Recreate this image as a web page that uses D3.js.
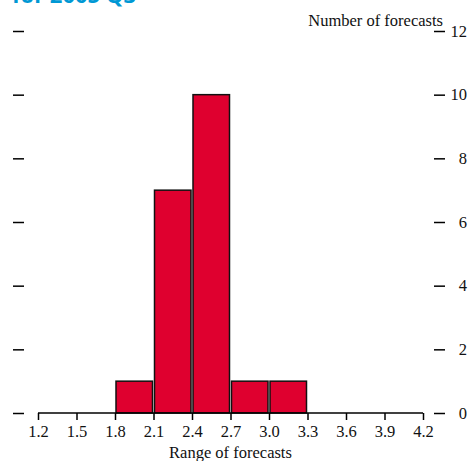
<!DOCTYPE html>
<html><head><meta charset="utf-8">
<script src="https://cdn.jsdelivr.net/npm/d3@7"></script>
<style>html,body{margin:0;padding:0;background:#fff;overflow:hidden}</style>
</head><body>
<svg id="c" width="469" height="461"></svg>
<script>
const binStarts = [1.8, 2.1, 2.4, 2.7, 3.0];
const binWidth = 0.3;
const counts = [1, 7, 10, 1, 1];
const xTicks = [1.2, 1.5, 1.8, 2.1, 2.4, 2.7, 3.0, 3.3, 3.6, 3.9, 4.2];
const yTicks = [0, 2, 4, 6, 8, 10, 12];
const titleText = "for 2005 Q3";
const yTitle = "Number of forecasts";
const xTitle = "Range of forecasts";

const svg = d3.select("#c");
const serif = "'Liberation Serif', 'DejaVu Serif', serif";
const fs = 16.5;
const x = d3.scaleLinear().domain([1.2, 4.2]).range([38, 423]);
const y = d3.scaleLinear().domain([0, 12]).range([413, 31]);

svg.append("text").attr("x", 12).attr("y", 3)
  .attr("font-family", "'Open Sans', 'DejaVu Sans', sans-serif").attr("font-weight", "bold")
  .attr("font-size", 22).attr("fill", "#0098D4").text(titleText);

// bars
svg.selectAll("rect.bar").data(binStarts).enter().append("rect")
  .attr("x", (d) => x(d) + 1)
  .attr("width", (d) => x(d + binWidth) - x(d) - 2)
  .attr("y", (d, i) => y(counts[i]))
  .attr("height", (d, i) => y(0) - y(counts[i]))
  .attr("fill", "#DF002F").attr("stroke", "#111").attr("stroke-width", 1.5);

// x axis
const xAxis = d3.axisBottom(x).tickValues(xTicks).tickSize(7).tickPadding(5)
  .tickFormat(d3.format(".1f"));
const gx = svg.append("g").attr("transform", `translate(0,${y(0)})`).call(xAxis);
gx.select(".domain").attr("stroke", "#000").attr("stroke-width", 1.5).attr("d", `M${x(1.2)},0H${x(4.2)}`);
gx.selectAll(".tick line").attr("stroke", "#000").attr("stroke-width", 1.5);
gx.selectAll(".tick text").attr("font-family", serif).attr("font-size", fs).attr("fill", "#111");

// y ticks both sides
const left = d3.axisLeft(y).tickValues(yTicks).tickSize(11).tickFormat("");
const gl = svg.append("g").attr("transform", "translate(24,0)").call(left);
gl.select(".domain").remove();
gl.selectAll(".tick line").attr("stroke", "#000").attr("stroke-width", 1.5);

const right = d3.axisRight(y).tickValues(yTicks).tickSize(11).tickPadding(0).tickFormat(d => d);
const gr = svg.append("g").attr("transform", "translate(434,0)").call(right);
gr.select(".domain").remove();
gr.selectAll(".tick line").attr("stroke", "#000").attr("stroke-width", 1.5);
gr.selectAll(".tick text").attr("x", 33).attr("text-anchor", "end")
  .attr("font-family", serif).attr("font-size", fs).attr("fill", "#111");

svg.append("text").attr("x", 443).attr("y", 26).attr("text-anchor", "end")
  .attr("font-family", serif).attr("font-size", fs).attr("fill", "#111").text(yTitle);
svg.append("text").attr("x", x(2.7)).attr("y", 458).attr("text-anchor", "middle")
  .attr("font-family", serif).attr("font-size", fs).attr("fill", "#111").text(xTitle);
</script>
</body></html>
